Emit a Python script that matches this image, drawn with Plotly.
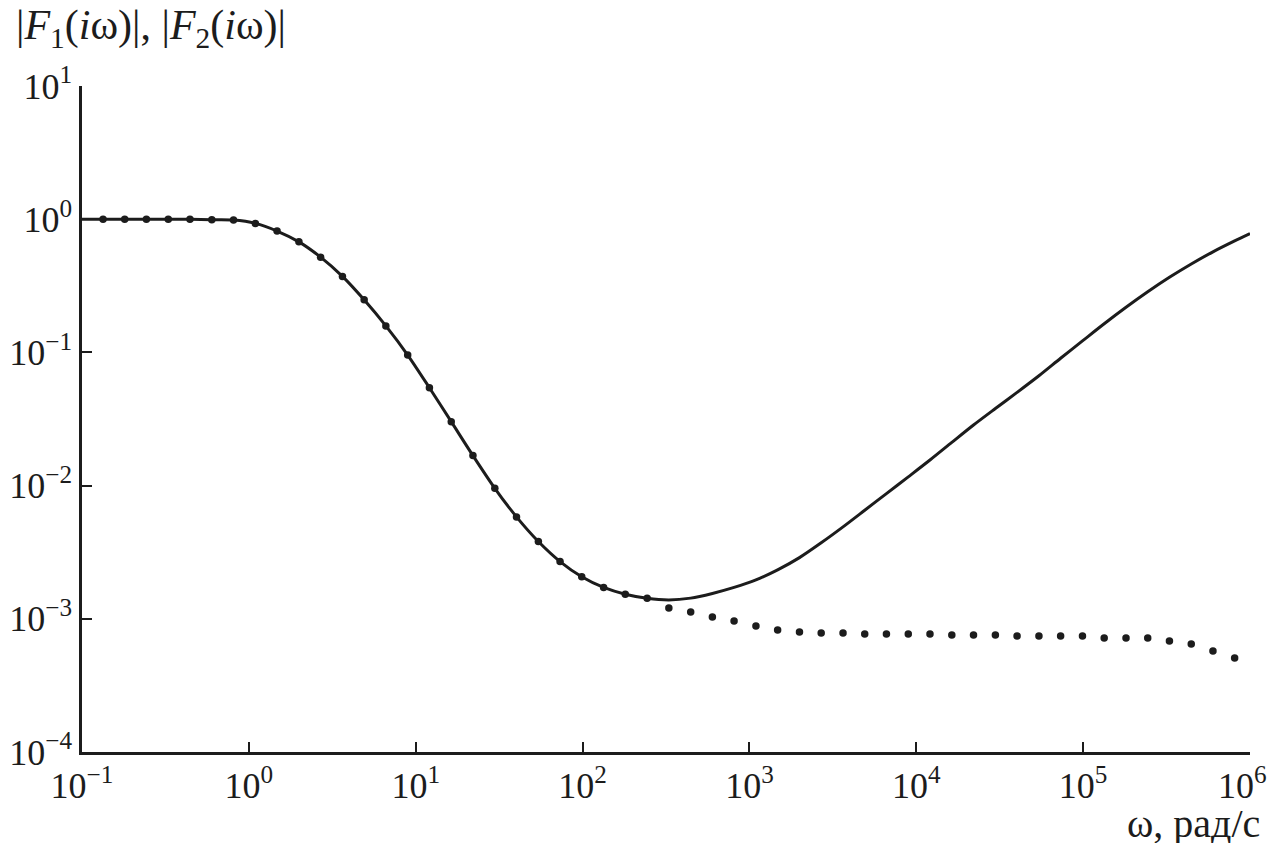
import plotly.graph_objects as go

# Frequency grid (rad/s) of the plotted points
omega = [0.1337, 0.1803, 0.2432, 0.3289, 0.4436, 0.5998, 0.8091, 1.094, 1.476, 1.995,
         2.692, 3.639, 4.909, 6.622, 8.954, 12.08, 16.33, 22.03, 29.79, 40.18,
         54.33, 73.28, 98.86, 133.7, 180.3, 243.8, 328.9, 444.6, 599.8, 809.1,
         1094, 1476, 1995, 2692, 3639, 4909, 6622, 8954, 12080, 16330,
         22030, 29790, 40180, 54330, 73280, 99080, 133700, 180700, 243800, 328900,
         444600, 599800, 809100]

# |F1(iw)| - solid line
omega_f1 = [0.1] + omega + [1e6]
F1 = [1.0,
      1.0, 1.0, 1.0, 1.0, 0.998, 0.99, 0.985, 0.93, 0.815, 0.676,
      0.519, 0.372, 0.248, 0.158, 0.0955, 0.0543, 0.0302, 0.0168, 0.00955, 0.00582,
      0.0038, 0.00269, 0.00207, 0.00172, 0.00153, 0.001426, 0.001387, 0.00143, 0.00155, 0.00172,
      0.00196, 0.00233, 0.00288, 0.00372, 0.0049, 0.00653, 0.00871, 0.01164, 0.01556, 0.0211,
      0.0285, 0.0379, 0.0501, 0.0668, 0.0904, 0.122, 0.164, 0.218, 0.285, 0.366,
      0.461, 0.569, 0.687,
      0.78]

# |F2(iw)| - dotted
F2 = [1.0, 1.0, 1.0, 1.0, 0.998, 0.99, 0.985, 0.93, 0.815, 0.676,
      0.519, 0.372, 0.248, 0.158, 0.0955, 0.0543, 0.0302, 0.0168, 0.00955, 0.00582,
      0.0038, 0.00269, 0.00207, 0.00172, 0.00153, 0.001426,
      0.001205, 0.001125, 0.001032, 0.000962, 0.000883, 0.000824, 0.000796, 0.000782, 0.000782,
      0.000769, 0.000769, 0.000769, 0.000769, 0.000755, 0.000755, 0.000755,
      0.000743, 0.000743, 0.000743, 0.000743, 0.000718, 0.000718, 0.000718,
      0.000682, 0.000647, 0.000573, 0.000508]

x_tickvals = [0.1, 1, 10, 100, 1e3, 1e4, 1e5, 1e6]
x_ticktext = ["10<sup>−1</sup>", "10<sup>0</sup>", "10<sup>1</sup>", "10<sup>2</sup>",
              "10<sup>3</sup>", "10<sup>4</sup>", "10<sup>5</sup>", ""]
x_last_label = "10<sup>6</sup>"   # drawn as an annotation so it stays inside the page edge
y_tickvals = [1e-4, 1e-3, 1e-2, 1e-1, 1, 10]
y_ticktext = ["10<sup>−4</sup>", "10<sup>−3</sup>", "10<sup>−2</sup>", "10<sup>−1</sup>",
              "10<sup>0</sup>", "10<sup>1</sup>"]

FONT = "Liberation Serif"
INK = "#1c1c1c"

fig = go.Figure()
fig.add_trace(go.Scatter(x=omega_f1, y=F1, mode="lines",
                         line=dict(color=INK, width=3, shape="spline", smoothing=0.8),
                         showlegend=False, hoverinfo="skip"))
fig.add_trace(go.Scatter(x=omega, y=F2, mode="markers",
                         marker=dict(color=INK, size=7.5, symbol="circle"),
                         showlegend=False, hoverinfo="skip"))

axis_common = dict(type="log", ticks="inside", ticklen=10, tickwidth=2, tickcolor=INK,
                   showline=True, linecolor=INK, linewidth=2.5, showgrid=False,
                   zeroline=False, automargin=False, ticklabeloverflow="allow",
                   tickfont=dict(family=FONT, size=36, color=INK))

# the page body has an 8px margin, so the figure is made smaller (no scrollbars) and offsets adjusted
fig.update_layout(
    width=1269, height=835,
    margin=dict(l=74, r=27, t=78, b=91),
    paper_bgcolor="white", plot_bgcolor="white",
    font=dict(family=FONT, size=36, color=INK),
    xaxis=dict(range=[-1, 6], tickvals=x_tickvals, ticktext=x_ticktext, **axis_common),
    yaxis=dict(range=[-4, 1], tickvals=y_tickvals, ticktext=y_ticktext, **axis_common),
    annotations=[
        dict(text="|<i>F</i><sub>1</sub>(<i>i</i>ω)|, |<i>F</i><sub>2</sub>(<i>i</i>ω)|",
             xref="paper", yref="paper", x=-0.0582, y=1.0, yshift=58,
             xanchor="left", yanchor="middle", showarrow=False,
             font=dict(family=FONT, size=42, color=INK)),
        dict(text=x_last_label, xref="paper", yref="paper", x=1.0, y=0, yshift=-31,
             xanchor="right", yanchor="middle", xshift=19, showarrow=False,
             font=dict(family=FONT, size=36, color=INK)),
        dict(text="ω, рад/с", xref="paper", yref="paper", x=1.0, y=0, yshift=-71,
             xanchor="right", yanchor="middle", xshift=12, showarrow=False,
             font=dict(family=FONT, size=40, color=INK)),
    ],
)

fig.write_html("out.html")
